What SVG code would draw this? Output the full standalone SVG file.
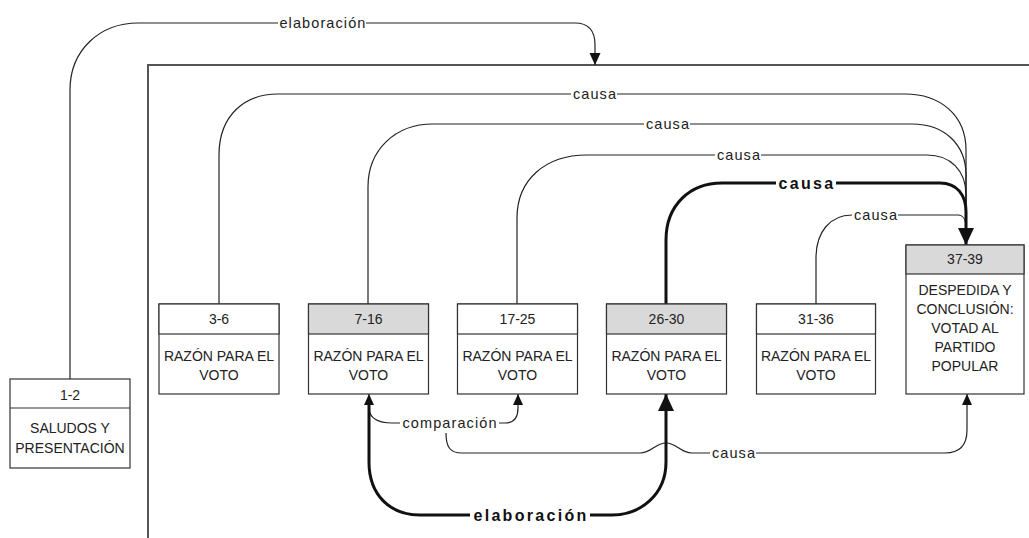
<svg xmlns="http://www.w3.org/2000/svg" width="1029" height="538" viewBox="0 0 1029 538">
<style>
.box{fill:#fff;stroke:#333;stroke-width:1.2}
.hdr{fill:#d9d9d9;stroke:#333;stroke-width:1.2}
.nt{font-family:"Liberation Sans",Arial,sans-serif;font-size:14px;fill:#222;text-anchor:middle}
.ln{fill:none;stroke:#222;stroke-width:1.2}
.bl{fill:none;stroke:#111;stroke-width:3}
.lb{font-family:"Liberation Sans",Arial,sans-serif;font-size:14.5px;letter-spacing:1.1px;fill:#222;text-anchor:middle}
.lbb{font-family:"Liberation Sans",Arial,sans-serif;font-size:16px;font-weight:bold;letter-spacing:2.3px;fill:#111;text-anchor:middle}
.bg{fill:#fff}
</style>
<defs>
<marker id="aM" markerUnits="userSpaceOnUse" markerWidth="12" markerHeight="12" refX="12" refY="6" orient="auto"><path d="M0,0.5 L12,6 L0,11.5 z" fill="#111"/></marker>
<marker id="aL" markerUnits="userSpaceOnUse" markerWidth="17" markerHeight="16" refX="17" refY="8" orient="auto"><path d="M0,0 L17,8 L0,16 z" fill="#111"/></marker>
<marker id="aS" markerUnits="userSpaceOnUse" markerWidth="11" markerHeight="10" refX="11" refY="5" orient="auto"><path d="M0,0 L11,5 L0,10 z" fill="#111"/></marker>
</defs>
<rect x="0" y="0" width="1029" height="538" fill="#fff"/>
<rect id="frame" x="148" y="65" width="920" height="520" fill="none" stroke="#555" stroke-width="2"/>
<g id="connectors">
<path class="ln" d="M70,379 L70,90 C70,50 100,23 138,23 L575,23 C590,23 595,32 595,45 L595,65" marker-end="url(#aM)"/>
<path class="ln" d="M219,304 L219,155 C219,115 245,94 278,94 L905,94 C940,94 966,115 966,150 L966,240"/>
<path class="ln" d="M368,304 L368,187 C368,150 395,124 433,124 L912,124 C945,124 966,145 966,175 L966,240"/>
<path class="ln" d="M517,304 L517,218 C517,180 545,155 587,155 L927,155 C950,155 966,170 966,195 L966,240"/>
<path class="ln" d="M816,304 L816,258 C816,232 830,215 852,215 L958,215 C963,215 966,220 966,228 L966,240"/>
<path class="bl" d="M666,304 L666,240 C666,205 690,183 722,183 L940,183 C957,183 966,195 966,212 L966,245" marker-end="url(#aL)"/>
<path class="ln" d="M402,423 L392,423 C378,423 369,418 369,408 L369,394" marker-end="url(#aS)"/>
<path class="ln" d="M497,423 L505,423 C513,423 518,418 518,408 L518,394" marker-end="url(#aS)"/>
<path class="ln" d="M446,433 C446,447 450,453 462,453 L640,453 C652,453 655,443 666,443 C677,443 680,453 692,453 L945,453 C960,453 967,445 967,430 L967,394" marker-end="url(#aS)"/>
<path class="bl" d="M369,404 L369,462 C369,495 390,515 420,515 L612,515 C640,515 666,495 666,462 L666,394" marker-end="url(#aL)"/>
<rect class="bg" x="278" y="14" width="88" height="18"/>
<text class="lb" x="323" y="28">elaboración</text>
<rect class="bg" x="571" y="85" width="46" height="18"/>
<text class="lb" x="595" y="99">causa</text>
<rect class="bg" x="644" y="115" width="46" height="18"/>
<text class="lb" x="668" y="129">causa</text>
<rect class="bg" x="715" y="146" width="46" height="18"/>
<text class="lb" x="739" y="160">causa</text>
<rect class="bg" x="776" y="173" width="60" height="20"/>
<text class="lbb" x="807" y="189">causa</text>
<rect class="bg" x="852" y="206" width="46" height="18"/>
<text class="lb" x="876" y="220">causa</text>
<rect class="bg" x="400" y="414" width="99" height="18"/>
<text class="lb" x="450" y="428">comparación</text>
<rect class="bg" x="710" y="444" width="46" height="18"/>
<text class="lb" x="734" y="458">causa</text>
<rect class="bg" x="470" y="505" width="120" height="20"/>
<text class="lbb" x="531" y="521">elaboración</text>
</g>
<g id="n1-2">
<rect class="box" x="10" y="379" width="120" height="89"/>
<line x1="10" y1="408" x2="130" y2="408" stroke="#333" stroke-width="1.2"/>
<text class="nt" x="70" y="400">1-2</text>
<text class="nt" x="70" y="433">SALUDOS Y</text>
<text class="nt" x="70" y="453">PRESENTACIÓN</text>
</g>
<g id="n3-6">
<rect class="box" x="159" y="304" width="120" height="90"/>
<rect class="box" x="159" y="304" width="120" height="30"/>
<text class="nt" x="219" y="324">3-6</text>
<text class="nt" x="219" y="361">RAZÓN PARA EL</text>
<text class="nt" x="219" y="380">VOTO</text>
</g>
<g id="n7-16">
<rect class="box" x="308.5" y="304" width="120" height="90"/>
<rect class="hdr" x="308.5" y="304" width="120" height="30"/>
<text class="nt" x="368.5" y="324">7-16</text>
<text class="nt" x="368.5" y="361">RAZÓN PARA EL</text>
<text class="nt" x="368.5" y="380">VOTO</text>
</g>
<g id="n17-25">
<rect class="box" x="457.5" y="304" width="120" height="90"/>
<rect class="box" x="457.5" y="304" width="120" height="30"/>
<text class="nt" x="517.5" y="324">17-25</text>
<text class="nt" x="517.5" y="361">RAZÓN PARA EL</text>
<text class="nt" x="517.5" y="380">VOTO</text>
</g>
<g id="n26-30">
<rect class="box" x="606.5" y="304" width="120" height="90"/>
<rect class="hdr" x="606.5" y="304" width="120" height="30"/>
<text class="nt" x="666.5" y="324">26-30</text>
<text class="nt" x="666.5" y="361">RAZÓN PARA EL</text>
<text class="nt" x="666.5" y="380">VOTO</text>
</g>
<g id="n31-36">
<rect class="box" x="756.5" y="304" width="119" height="90"/>
<rect class="box" x="756.5" y="304" width="119" height="30"/>
<text class="nt" x="816" y="324">31-36</text>
<text class="nt" x="816" y="361">RAZÓN PARA EL</text>
<text class="nt" x="816" y="380">VOTO</text>
</g>
<g id="n37-39">
<rect class="box" x="906" y="245" width="118" height="149"/>
<rect class="hdr" x="906" y="245" width="118" height="29"/>
<text class="nt" x="965" y="264">37-39</text>
<text class="nt" x="965" y="295">DESPEDIDA Y</text>
<text class="nt" x="965" y="314">CONCLUSIÓN:</text>
<text class="nt" x="965" y="333">VOTAD AL</text>
<text class="nt" x="965" y="352">PARTIDO</text>
<text class="nt" x="965" y="371">POPULAR</text>
</g>
</svg>
